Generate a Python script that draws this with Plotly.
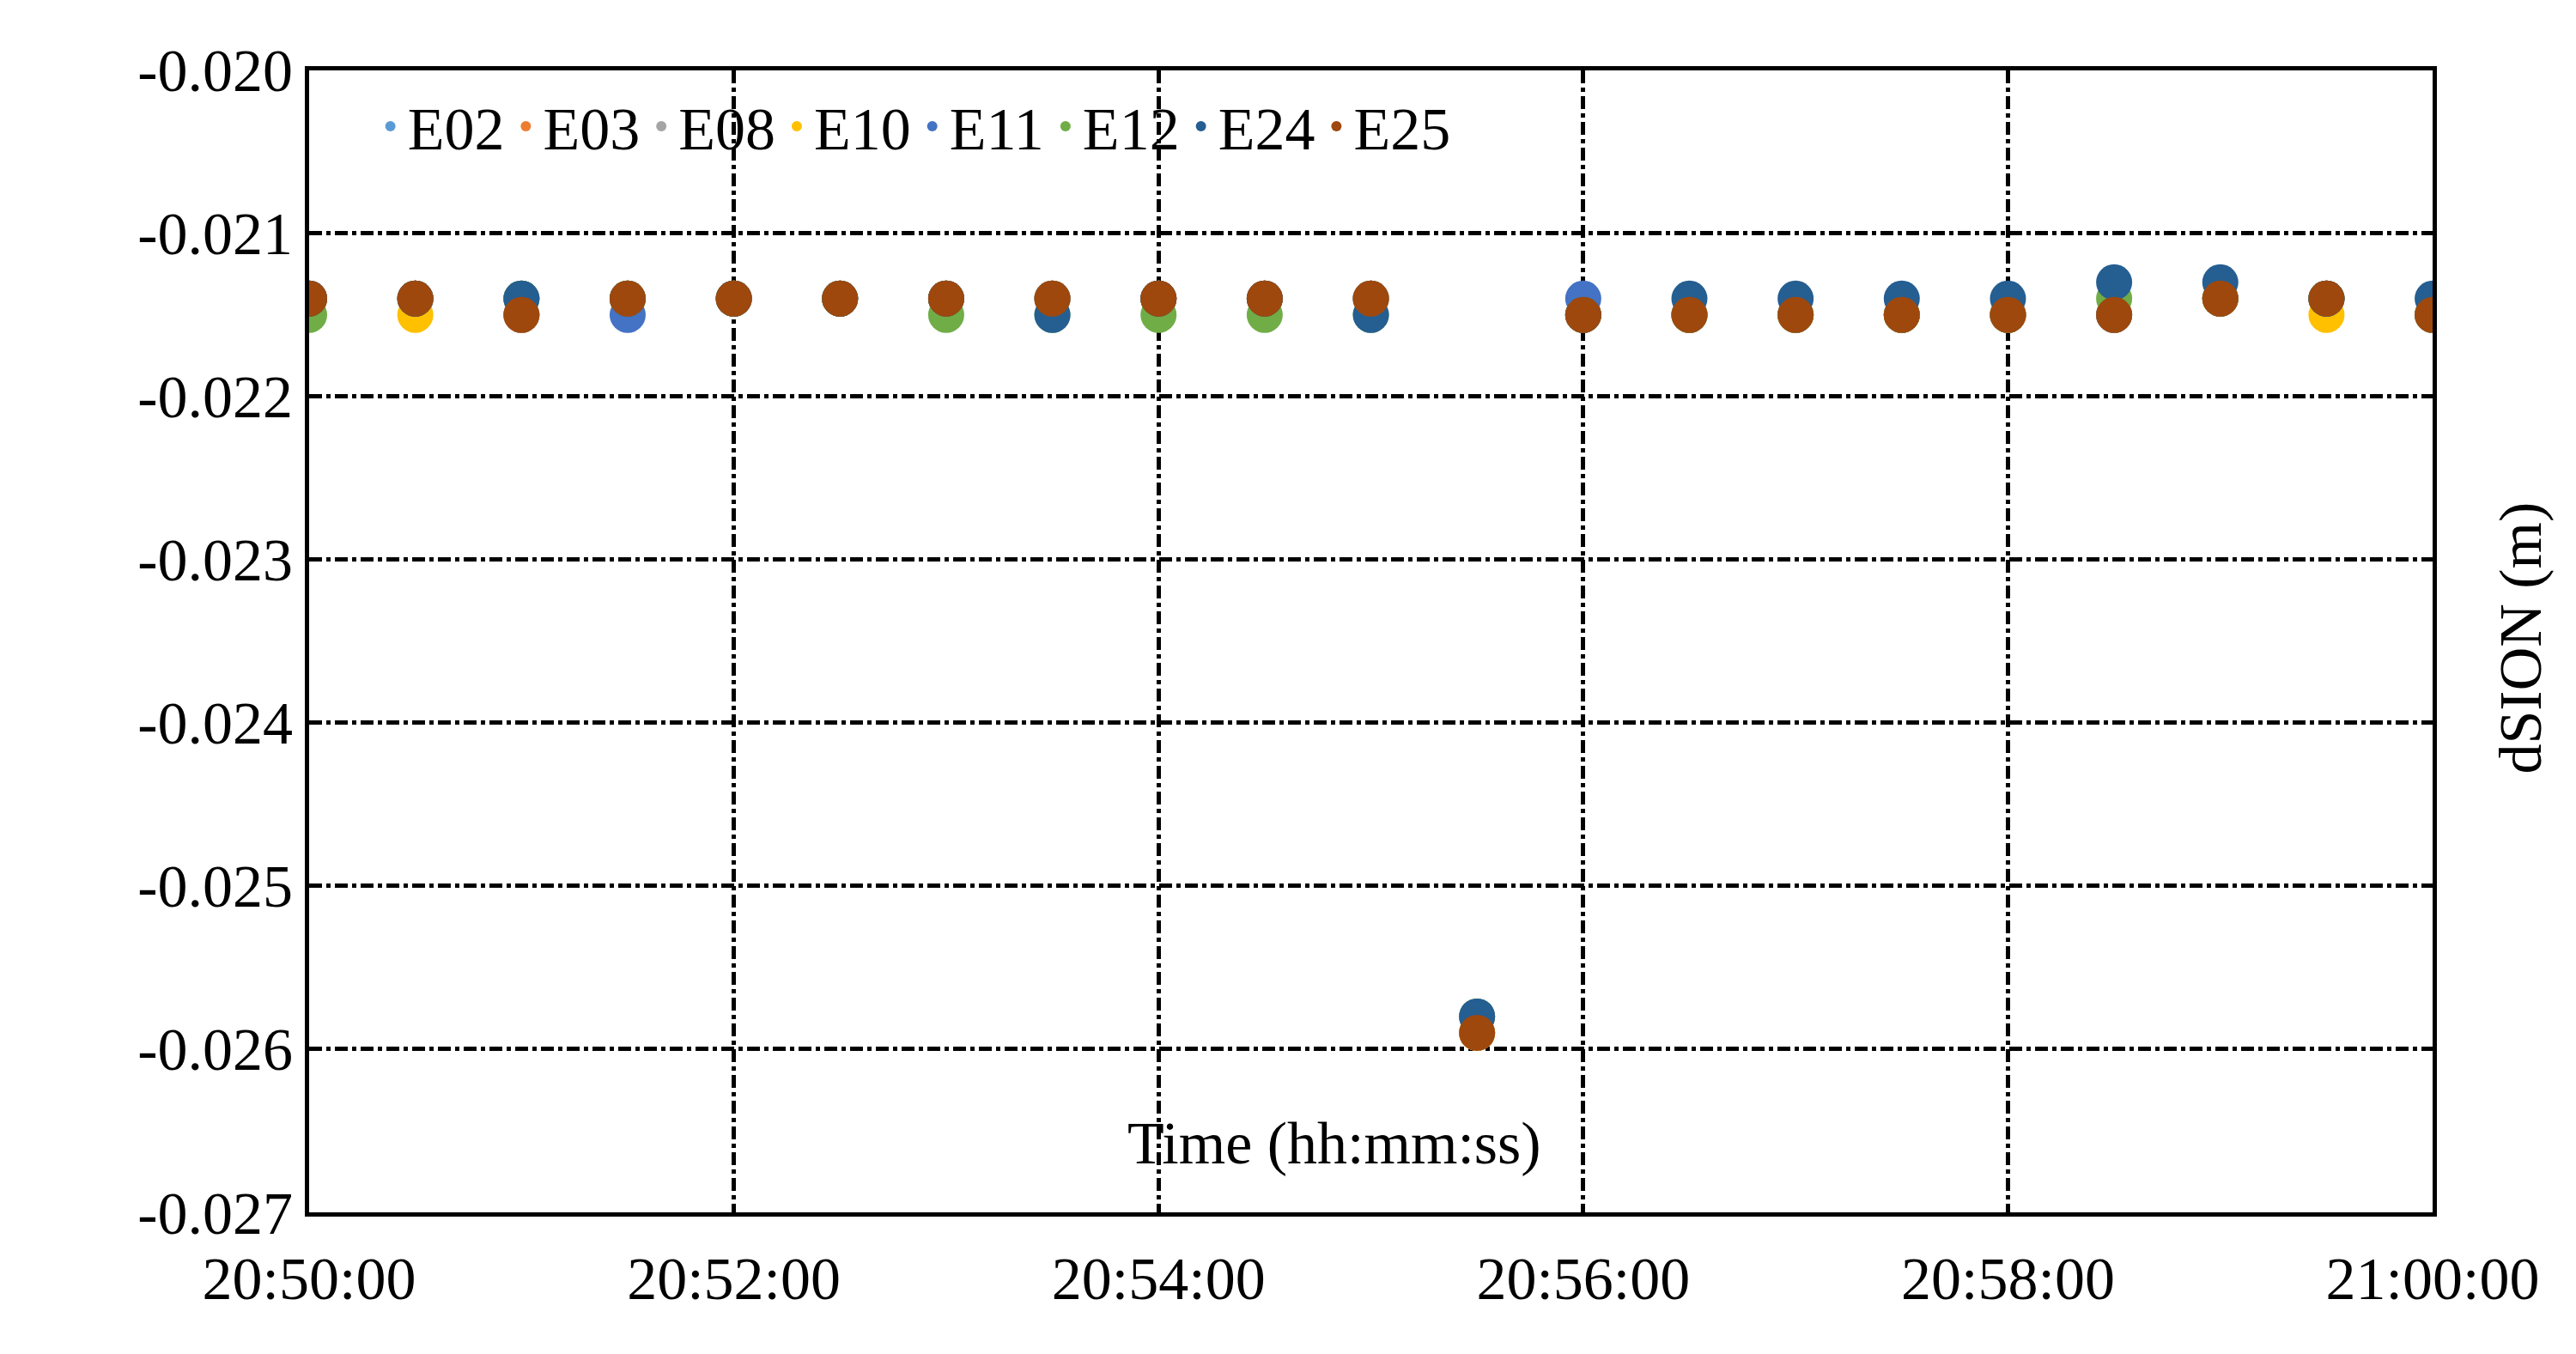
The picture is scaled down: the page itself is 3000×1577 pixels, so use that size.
import plotly.graph_objects as go

times = ["20:50:00","20:50:30","20:51:00","20:51:30","20:52:00","20:52:30","20:53:00","20:53:30",
         "20:54:00","20:54:30","20:55:00","20:55:30","20:56:00","20:56:30","20:57:00","20:57:30",
         "20:58:00","20:58:30","20:59:00","20:59:30","21:00:00"]
E25 = [-0.0214,-0.0214,-0.0215,-0.0214,-0.0214,-0.0214,-0.0214,-0.0214,-0.0214,-0.0214,-0.0214,-0.0259,
       -0.0215,-0.0215,-0.0215,-0.0215,-0.0215,-0.0215,-0.0214,-0.0214,-0.0215]
E24 = [-0.0214,-0.0214,-0.0214,-0.0214,-0.0214,-0.0214,-0.0214,-0.0215,-0.0214,-0.0214,-0.0215,-0.0258,
       -0.0215,-0.0214,-0.0214,-0.0214,-0.0214,-0.0213,-0.0213,-0.0214,-0.0214]
E12 = [-0.0215,-0.0214,-0.0214,-0.0214,-0.0214,-0.0214,-0.0215,-0.0215,-0.0215,-0.0215,-0.0215,-0.0258,
       -0.0215,-0.0215,-0.0215,-0.0215,-0.0215,-0.0214,-0.0214,-0.0214,-0.0215]
E11 = [-0.0214,-0.0214,-0.0214,-0.0215,-0.0214,-0.0214,-0.0214,-0.0214,-0.0214,-0.0214,-0.0214,-0.0258,
       -0.0214,-0.0215,-0.0215,-0.0215,-0.0215,-0.0215,-0.0214,-0.0214,-0.0215]
E10 = [-0.0214,-0.0215,-0.0214,-0.0214,-0.0214,-0.0214,-0.0214,-0.0214,-0.0214,-0.0214,-0.0214,-0.0259,
       -0.0215,-0.0215,-0.0215,-0.0215,-0.0215,-0.0215,-0.0214,-0.0215,-0.0215]
E08 = E25
E03 = [-0.0214,-0.0214,-0.0215,-0.0214,-0.0214,-0.0214,-0.0214,-0.0214,-0.0214,-0.0214,-0.0214,-0.0259,
       -0.0215,-0.0215,-0.0215,-0.0215,-0.0215,-0.0215,-0.0214,-0.0214,-0.0215]
E02 = E25
y_ticks = [-0.020,-0.021,-0.022,-0.023,-0.024,-0.025,-0.026,-0.027]
y_labels = ["-0.020","-0.021","-0.022","-0.023","-0.024","-0.025","-0.026","-0.027"]

series = [("E02",E02,"#5b9bd5"),("E03",E03,"#ed7d31"),("E08",E08,"#a5a5a5"),("E10",E10,"#ffc000"),
          ("E11",E11,"#4472c4"),("E12",E12,"#70ad47"),("E24",E24,"#255e91"),("E25",E25,"#9e480e")]
xs = ["2020-01-01 " + t for t in times]
font = "Liberation Serif"
fig = go.Figure()
for name, ys, c in series:
    fig.add_trace(go.Scatter(x=xs, y=ys, mode="markers", name=name,
                             marker=dict(color=c, size=42, line=dict(width=0))))
fig.update_layout(
    width=3000, height=1577, paper_bgcolor="white", plot_bgcolor="white",
    margin=dict(l=352, r=160, t=67, b=173),
    font=dict(family=font, size=70, color="black"),
    showlegend=True,
    legend=dict(orientation="h", x=0.03, y=0.985, xanchor="left", yanchor="top",
                font=dict(size=70), itemsizing="constant", bgcolor="rgba(0,0,0,0)",
                itemwidth=30),
    annotations=[
        dict(text="Time (hh:mm:ss)", x=0.48, y=0.03, xref="paper", yref="paper",
             showarrow=False, font=dict(size=70), xanchor="center", yanchor="bottom"),
        dict(text="dSION (m)", x=1.035, y=0.5, xref="paper", yref="paper", textangle=-90,
             showarrow=False, font=dict(size=70), xanchor="center", yanchor="middle"),
    ],
)
fig.update_xaxes(type="date", range=["2020-01-01 20:50:00","2020-01-01 21:00:00"],
                 dtick=120000, tickformat="%H:%M:%S", showgrid=True, gridcolor="black",
                 griddash="dashdot", gridwidth=5, showline=True, linecolor="black", linewidth=5,
                 mirror=True, ticks="", ticklabelstandoff=12, domain=[0, 0.994])
fig.update_yaxes(range=[-0.027,-0.020], tickvals=y_ticks, ticktext=y_labels, showgrid=True,
                 gridcolor="black", griddash="dashdot", gridwidth=5, showline=True,
                 linecolor="black", linewidth=5, mirror=True, zeroline=False, ticks="",
                 domain=[0, 0.995])
fig.write_html("out.html")
